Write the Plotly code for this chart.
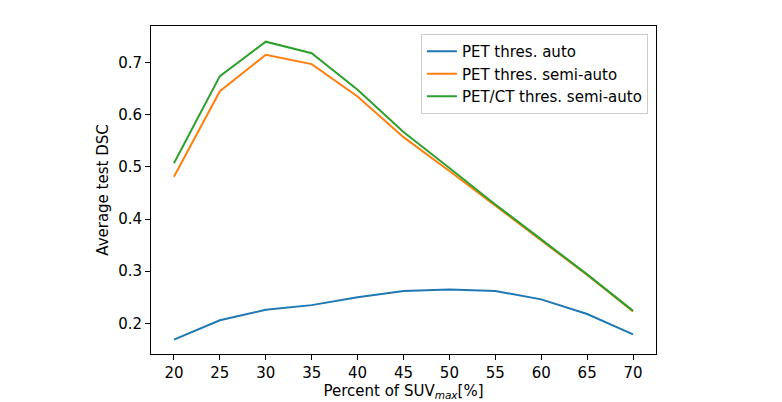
import plotly.graph_objects as go

x_pct = [20, 25, 30, 35, 40, 45, 50, 55, 60, 65, 70]
pet_auto = [0.169, 0.206, 0.226, 0.235, 0.250, 0.262, 0.265, 0.262, 0.246, 0.218, 0.179]
pet_semi = [0.481, 0.645, 0.715, 0.697, 0.635, 0.557, 0.492, 0.425, 0.359, 0.293, 0.223]
petct_semi = [0.507, 0.674, 0.740, 0.718, 0.648, 0.567, 0.498, 0.428, 0.361, 0.294, 0.224]
names = ["PET thres. auto", "PET thres. semi-auto", "PET/CT thres. semi-auto"]
colors = ["#1f77b4", "#ff7f0e", "#2ca02c"]

font = dict(family="DejaVu Sans", size=15, color="black")

fig = go.Figure()
for ys, nm, c in zip([pet_auto, pet_semi, petct_semi], names, colors):
    fig.add_trace(go.Scatter(x=x_pct, y=ys, mode="lines", name=nm,
                             line=dict(color=c, width=2)))

axis_common = dict(showline=True, linecolor="black", linewidth=1, mirror=True,
                   ticks="outside", ticklen=5, tickwidth=1, tickcolor="black",
                   showgrid=False, zeroline=False, tickfont=font, automargin=False)

fig.update_layout(
    width=782, height=402,
    margin=dict(l=151, r=126, t=26, b=48),
    paper_bgcolor="white", plot_bgcolor="white",
    font=font,
    showlegend=True,
    legend=dict(x=0.984, y=0.9756, xanchor="right", yanchor="top",
                bordercolor="#cccccc", borderwidth=1, bgcolor="rgba(255,255,255,0.8)",
                font=font, tracegroupgap=0, itemwidth=30),
    xaxis=dict(range=[17.5, 72.5], tickvals=x_pct,
               title=dict(text="Percent of SUV<sub><i>max</i></sub>[%]", font=font, standoff=4),
               **axis_common),
    yaxis=dict(range=[0.1413, 0.7701], tickvals=[0.2, 0.3, 0.4, 0.5, 0.6, 0.7],
               ticktext=["0.2", "0.3", "0.4", "0.5", "0.6", "0.7"],
               title=dict(text="Average test DSC", font=font, standoff=5),
               **axis_common),
)

fig.write_html("out.html")
